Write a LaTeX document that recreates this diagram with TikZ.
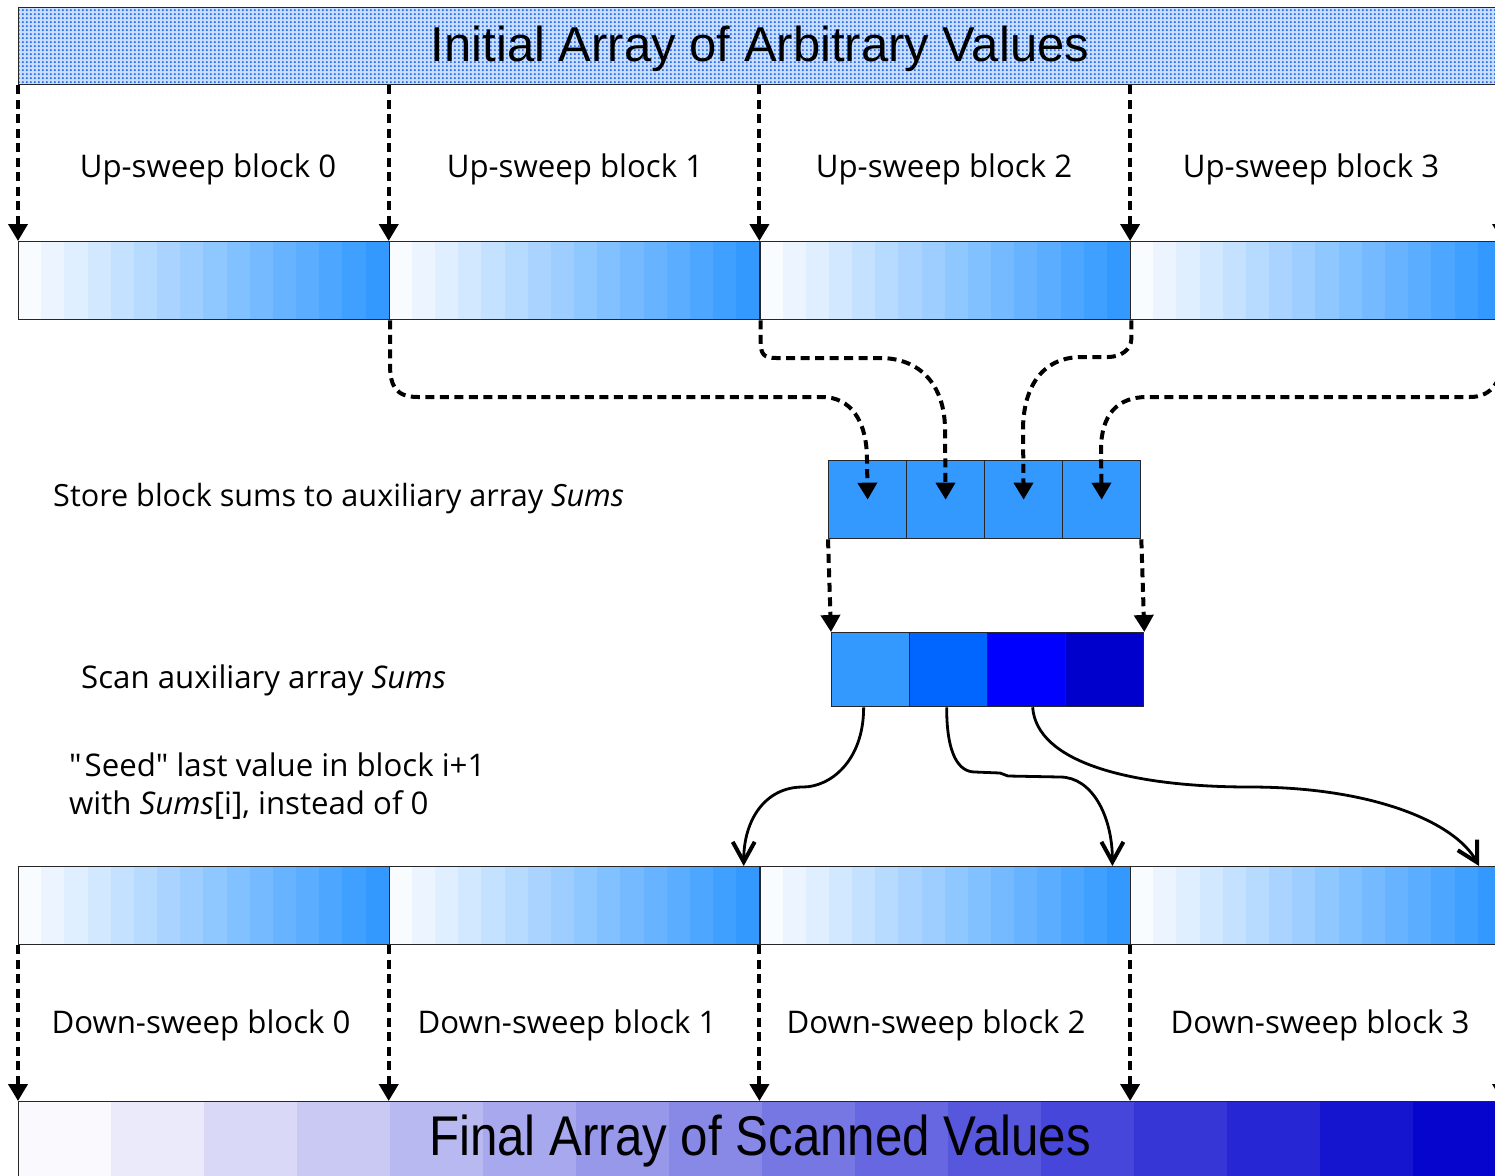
\documentclass[tikz,border=0pt]{standalone}
\usepackage{graphicx}
\usepackage{fontspec}
\setmainfont{Open Sans}
\newfontfamily\plainquote{Open Sans}
\newfontfamily\titlefont{Liberation Sans}
\usetikzlibrary{arrows.meta,patterns.meta,calc}

\definecolor{upblue}{RGB}{51,153,255}
\definecolor{scanA}{RGB}{51,153,255}
\definecolor{scanB}{RGB}{0,102,255}
\definecolor{scanC}{RGB}{0,0,255}
\definecolor{scanD}{RGB}{0,0,204}
\definecolor{finalblue}{RGB}{0,0,204}
\definecolor{bannerbg}{RGB}{200,222,252}
\definecolor{dotblue}{RGB}{30,100,235}

% small dot grid for the input-array banner
\tikzdeclarepattern{
  name=bluedots,
  bounding box={(0pt,0pt) and (4.3pt,4.3pt)},
  tile size={(4.3pt,4.3pt)},
  code={\pgfpathcircle{\pgfpoint{2.15pt}{2.15pt}}{1.25pt}\pgfusepath{fill}}
}

% straight double quote, without TeX ligature mapping
\newcommand{\dq}{{\plainquote"}}

\begin{document}
\begin{tikzpicture}[x=1pt,y=-1pt,
  blk/.style={draw=black!85, line width=1.3pt, minimum width=370.7pt,
    minimum height=78pt, anchor=north west, inner sep=0pt},
  cell/.style={draw=black!85, line width=1.3pt, minimum width=78pt,
    minimum height=78pt, anchor=north west, inner sep=0pt},
  scancell/.style={cell, minimum height=74pt},
  dasharrow/.style={line width=4pt, dash pattern=on 9pt off 5.5pt,
    -{Triangle[length=17pt,width=19pt]}},
  seedarrow/.style={line width=2.8pt,
    -{Straight Barb[length=20pt,width=22pt,line width=4pt]}},
  lbl/.style={font=\fontsize{31.2}{36}\selectfont, inner sep=0pt},
  bigtitle/.style={inner sep=0pt, anchor=base},
]
\useasboundingbox (0,0) rectangle (1495,1175);
\clip (0,0) rectangle (1495,1175);
\fill[white] (0,0) rectangle (1495,1175);

% input array banner
\node[draw=black!85, line width=1.4pt, preaction={fill=bannerbg},
  pattern=bluedots, pattern color=dotblue, anchor=north west,
  minimum width=1483pt, minimum height=77pt, inner sep=0pt] (ban) at (18,7) {};
\node[bigtitle, font=\titlefont\fontsize{49}{55}\selectfont] (title) at (760,61)
  {Initial Array of Arbitrary Values};

% graded fills of the up-sweep and down-sweep blocks
\foreach \b in {0,...,3} {
  \foreach \k in {0,...,15} {
    \pgfmathsetmacro\xa{18+370.7*\b+23.17*\k}
    \pgfmathsetmacro\xb{\xa+23.5}
    \pgfmathsetmacro\p{3+97*\k/15}
    \fill[upblue!\p!white] (\xa,241) rectangle (\xb,319);
    \fill[upblue!\p!white] (\xa,866) rectangle (\xb,944);
  }
}
\foreach \b in {0,...,3} {
  \node[blk] (u\b) at (18+370.7*\b,241) {};
  \node[blk] (d\b) at (18+370.7*\b,866) {};
}

% final scanned array
\foreach \k in {0,...,15} {
  \pgfmathsetmacro\xa{18+93*\k}
  \pgfmathsetmacro\xb{\xa+93.5}
  \pgfmathsetmacro\p{2+96*\k/15}
  \fill[finalblue!\p!white] (\xa,1101) rectangle (\xb,1185);
}
\node[draw=black!85, line width=1.3pt, anchor=north west, minimum width=1488pt,
  minimum height=84pt, inner sep=0pt] (fin) at (18,1101) {};
\node[bigtitle, font=\titlefont\fontsize{56}{62}\selectfont] (ftitle) at (760,1155)
  {\scalebox{0.88}[1]{Final Array of Scanned Values}};

% auxiliary array Sums and its scanned version
\foreach \i in {0,...,3} {
  \node[cell, fill=upblue] (s\i) at (828+78*\i,460) {};
}
\node[scancell, fill=scanA] (c0) at (831,632) {};
\node[scancell, fill=scanB] (c1) at (909,632) {};
\node[scancell, fill=scanC] (c2) at (987,632) {};
\node[scancell, fill=scanD] (c3) at (1065,632) {};

% labels
\node[lbl, anchor=base] (lu0) at (208,177) {Up-sweep block 0};
\node[lbl, anchor=base] (lu1) at (575,177) {Up-sweep block 1};
\node[lbl, anchor=base] (lu2) at (944,177) {Up-sweep block 2};
\node[lbl, anchor=base] (lu3) at (1311,177) {Up-sweep block 3};
\node[lbl, anchor=base] (ld0) at (201,1033) {Down-sweep block 0};
\node[lbl, anchor=base] (ld1) at (567,1033) {Down-sweep block 1};
\node[lbl, anchor=base] (ld2) at (936,1033) {Down-sweep block 2};
\node[lbl, anchor=base] (ld3) at (1320,1033) {Down-sweep block 3};
\node[lbl, font=\fontsize{30.6}{36}\selectfont, anchor=base west] (store) at (53,506)
  {Store block sums to auxiliary array \textit{Sums}};
\node[lbl, anchor=base west] (scan) at (81,688)
  {Scan auxiliary array \textit{Sums}};
\node[lbl, anchor=base west] (seedA) at (69,776)
  {\dq\kern3pt Seed\dq\ last value in block i+1};
\node[lbl, anchor=base west] (seedB) at (69,814)
  {with \textit{Sums}[i], instead of 0};

% banner to up-sweep blocks
\draw[dasharrow] (ban.south west) -- (u0.north west);
\foreach \b in {1,2,3}
  \draw[dasharrow] (u\b.north west |- ban.south) -- (u\b.north west);
\draw[dasharrow] (u3.north east |- ban.south) -- (u3.north east);

% block sums gathered into Sums
\draw[dasharrow] (u0.south east) -- ++(0,44)
  .. controls +(0,22) and +(-22,0) .. (418,397) -- (822,397)
  .. controls +(28,0) and +(0,-40) .. (867,460) -- (s0.center);
\draw[dasharrow] (u1.south east) -- ++(0,22)
  .. controls +(0,12) and +(-12,0) .. (776,358) -- (880,358)
  .. controls +(40,0) and +(0,-45) .. (945,430) -- (s1.center);
\draw[dasharrow] (u2.south east) -- ++(0,18)
  .. controls +(0,12) and +(12,0) .. (1108,357) -- (1082,357)
  .. controls +(-42,0) and +(0,-40) .. (1023,430) -- (s2.center);
\draw[dasharrow] (u3.south east) -- ++(0,38)
  .. controls +(0,22) and +(22,0) .. (1470,397) -- (1147,397)
  .. controls +(-30,0) and +(0,-35) .. (1101,450) -- (s3.center);

% scan of Sums
\draw[dasharrow] (s0.south west) -- (c0.north west);
\draw[dasharrow] (s3.south east) -- (c3.north east);

% seeding the down-sweep blocks
\draw[seedarrow] ([xshift=-7pt]c0.south)
  .. controls +(0,54) and +(27,0) .. (803,787)
  .. controls +(-38,0) and +(0,-46) .. ([xshift=-17pt]d1.north east);
\draw[seedarrow] ([xshift=-2pt]c1.south)
  .. controls +(0,48) and +(-16,0) .. (975,772) -- (1000,773) -- (1008,776) -- (1060,777)
  .. controls +(32,0) and +(0,-50) .. ([xshift=-19pt]d2.north east);
\draw[seedarrow] ([xshift=6pt]c2.south)
  .. controls +(4,55) and +(-120,0) .. (1250,787)
  .. controls +(120,0) and +(-25,-45) .. ([xshift=-23pt]d3.north east);

% down-sweep blocks to final array
\draw[dasharrow] (d0.south west) -- (fin.north west);
\foreach \b in {1,2,3}
  \draw[dasharrow] (d\b.south west) -- (d\b.south west |- fin.north);
\draw[dasharrow] (d3.south east) -- (d3.south east |- fin.north);
\end{tikzpicture}
\end{document}
